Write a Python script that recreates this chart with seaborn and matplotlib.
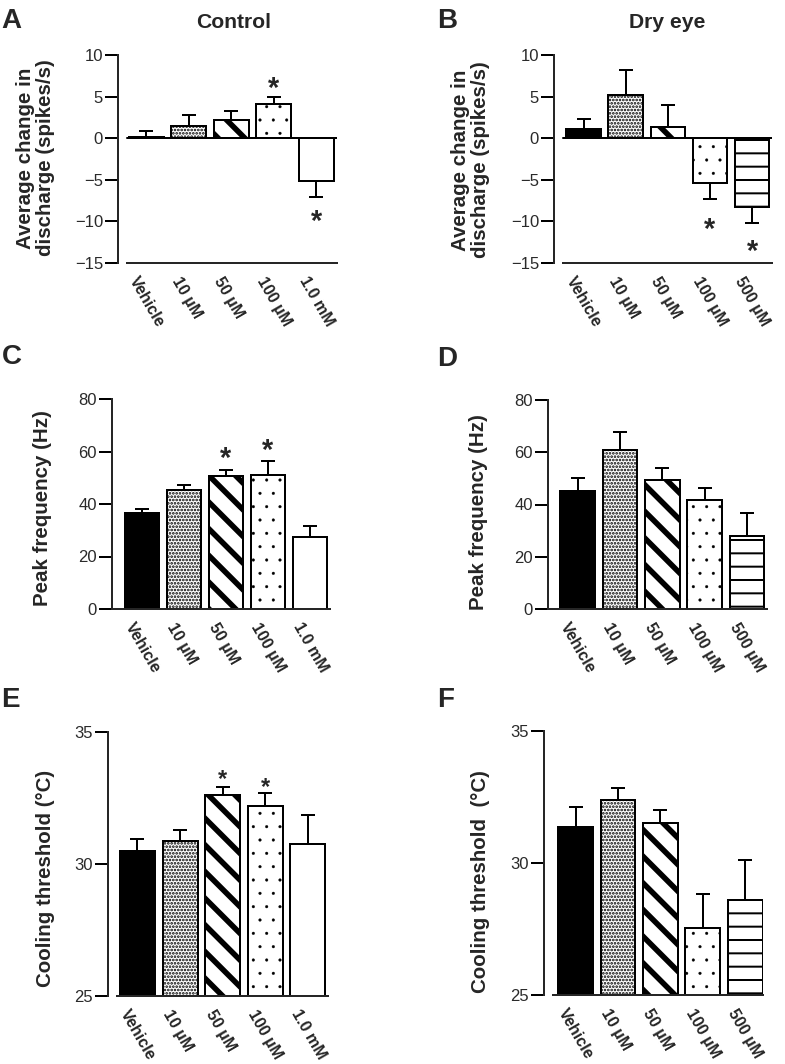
import matplotlib
matplotlib.use('Agg')
import matplotlib.pyplot as plt
import matplotlib.transforms as mtransforms
import seaborn as sns
import pandas as pd

# 数据
control_labels = ['Vehicle', '10 µM', '50 µM', '100 µM', '1.0 mM']
dry_labels = ['Vehicle', '10 µM', '50 µM', '100 µM', '500 µM']

a_mean = [0.2, 1.45, 2.2, 4.1, -5.15]
a_err = [0.65, 1.3, 1.1, 0.9, 1.9]
b_mean = [1.1, 5.15, 1.35, -5.35, -8.3]
b_err = [1.2, 3.1, 2.65, 2.0, 1.9]
c_mean = [36.4, 45.3, 50.8, 51.2, 27.4]
c_err = [1.6, 1.8, 2.1, 5.0, 4.4]
d_mean = [45.3, 61.0, 49.2, 41.6, 28.0]
d_err = [4.9, 6.7, 4.6, 4.7, 8.7]
e_mean = [30.5, 30.87, 32.61, 32.18, 30.76]
e_err = [0.45, 0.43, 0.3, 0.5, 1.08]
f_mean = [31.37, 32.37, 31.51, 27.52, 28.6]
f_err = [0.76, 0.48, 0.51, 1.3, 1.53]

# 显著性星号 (柱序号, y位置)
a_stars = [(3, 7.1), (4, -8.9)]
b_stars = [(3, -9.9), (4, -12.5)]
c_stars = [(2, 60.7), (3, 63.9)]
e_stars = [(2, 33.5), (3, 33.2)]

W, H, DPI = 785, 1064, 80
sns.set_style('ticks')
plt.rcParams['font.family'] = ['Liberation Sans', 'DejaVu Sans']

fig = plt.figure(figsize=(W / DPI, H / DPI), dpi=DPI)

# 填充样式: (facecolor, hatch, hatch线宽)
control_fill = [('black', None, 1), ('white', '....', 1.6), ('white', '\\', 5.0),
                ('white', '.', 0.3), ('white', None, 1)]
dry_fill = control_fill[:4] + [('white', '-', 1.8)]


def px_axes(spine_x, right_x, top_y, bottom_y):
    return fig.add_axes([spine_x / W, 1 - bottom_y / H,
                         (right_x - spine_x) / W, (bottom_y - top_y) / H])


def draw_panel(ax, labels, means, errs, fills, ylim, yticks, xlim, bottom_from,
               ylabel, ylabel_pos, stars=None, star_size=26, zero_line=False):
    df = pd.DataFrame({'dose': labels, 'value': means})
    sns.barplot(data=df, x='dose', y='value', color='white', edgecolor='black',
                linewidth=1.8, width=0.82, errorbar=None, saturation=1, ax=ax,
                zorder=2)
    for p, (fc, hatch, hlw) in zip(ax.patches, fills):
        p.set_facecolor(fc)
        p.set_edgecolor('black')
        if hatch:
            p.set_hatch(hatch)
            if hasattr(p, 'set_hatch_linewidth'):
                p.set_hatch_linewidth(hlw)

    # 单侧误差线
    lower = [e if m < 0 else 0 for m, e in zip(means, errs)]
    upper = [e if m >= 0 else 0 for m, e in zip(means, errs)]
    ax.errorbar(range(len(means)), means, yerr=[lower, upper], fmt='none',
                ecolor='black', elinewidth=1.8, capsize=6.5, capthick=1.8, zorder=1)

    ax.set_xlim(*xlim)
    ax.set_ylim(*ylim)
    ax.set_yticks(yticks)
    ax.set_xlabel('')
    ax.set_ylabel(ylabel, fontsize=18.5, fontweight='bold', linespacing=1.05)
    ax.yaxis.set_label_coords(ylabel_pos[0] / W, 1 - ylabel_pos[1] / H,
                              transform=fig.transFigure)

    sns.despine(ax=ax)
    ax.spines['left'].set_linewidth(1.8)
    ax.spines['bottom'].set_linewidth(1.8)
    ax.spines['bottom'].set_bounds(bottom_from, xlim[1])
    if zero_line:
        frac0 = (bottom_from - xlim[0]) / (xlim[1] - xlim[0])
        ax.axhline(0, xmin=frac0, xmax=1, color='black', lw=1.8, zorder=3)

    ax.tick_params(axis='y', length=11.5, width=1.8, color='black',
                   labelsize=15, labelcolor='#2a2a2a', pad=2)
    ax.tick_params(axis='x', length=0, pad=10, labelsize=14.5)
    offset = mtransforms.ScaledTranslation(-7 / DPI, 0, fig.dpi_scale_trans)
    for lab in ax.get_xticklabels():
        lab.set_rotation(-60)
        lab.set_rotation_mode('anchor')
        lab.set_ha('left')
        lab.set_va('top')
        lab.set_fontweight('bold')
        lab.set_transform(lab.get_transform() + offset)

    if stars:
        for i, y in stars:
            ax.annotate('*', xy=(i, y), xytext=(0, -0.6 * star_size),
                        textcoords='offset points', ha='center', va='baseline',
                        fontsize=star_size, fontweight='bold')


axA = px_axes(118, 337, 55, 263)
draw_panel(axA, control_labels, a_mean, a_err, control_fill, (-15, 10),
           [-15, -10, -5, 0, 5, 10], (-0.66, 4.49), -0.45,
           'Average change in\ndischarge (spikes/s)', (55, 158),
           stars=a_stars, zero_line=True)

axB = px_axes(554, 772, 55, 263)
draw_panel(axB, dry_labels, b_mean, b_err, dry_fill, (-15, 10),
           [-15, -10, -5, 0, 5, 10], (-0.70, 4.47), -0.49,
           'Average change in\ndischarge (spikes/s)', (490, 160),
           stars=b_stars, zero_line=True)

axC = px_axes(112, 330, 399, 609)
draw_panel(axC, control_labels, c_mean, c_err, control_fill, (0, 80),
           [0, 20, 40, 60, 80], (-0.714, 4.476), -0.714,
           'Peak frequency (Hz)', (52, 508), stars=c_stars)

axD = px_axes(548, 767, 400, 609)
draw_panel(axD, dry_labels, d_mean, d_err, dry_fill, (0, 80),
           [0, 20, 40, 60, 80], (-0.696, 4.47), -0.696,
           'Peak frequency (Hz)', (488, 512))

axE = px_axes(108, 328, 732, 996)
draw_panel(axE, control_labels, e_mean, e_err, control_fill, (25, 35),
           [25, 30, 35], (-0.692, 4.47), -0.48,
           'Cooling threshold (°C)', (55, 878), stars=e_stars, star_size=21)

axF = px_axes(544, 763, 731, 995)
draw_panel(axF, dry_labels, f_mean, f_err, dry_fill, (25, 35),
           [25, 30, 35], (-0.743, 4.42), -0.53,
           'Cooling threshold  (°C)', (490, 882))

# 标题与面板字母
fig.text(234 / W, 1 - 22 / H, 'Control', ha='center', va='center',
         fontsize=19, fontweight='bold')
fig.text(667 / W, 1 - 22 / H, 'Dry eye', ha='center', va='center',
         fontsize=19, fontweight='bold')
for letter, x, y in [('A', 1, 28), ('B', 437, 28), ('C', 2, 364),
                     ('D', 437, 366), ('E', 1, 707), ('F', 437, 707)]:
    fig.text(x / W, 1 - y / H, letter, ha='left', va='baseline',
             fontsize=25, fontweight='bold')

plt.savefig('out.png', dpi=DPI)
